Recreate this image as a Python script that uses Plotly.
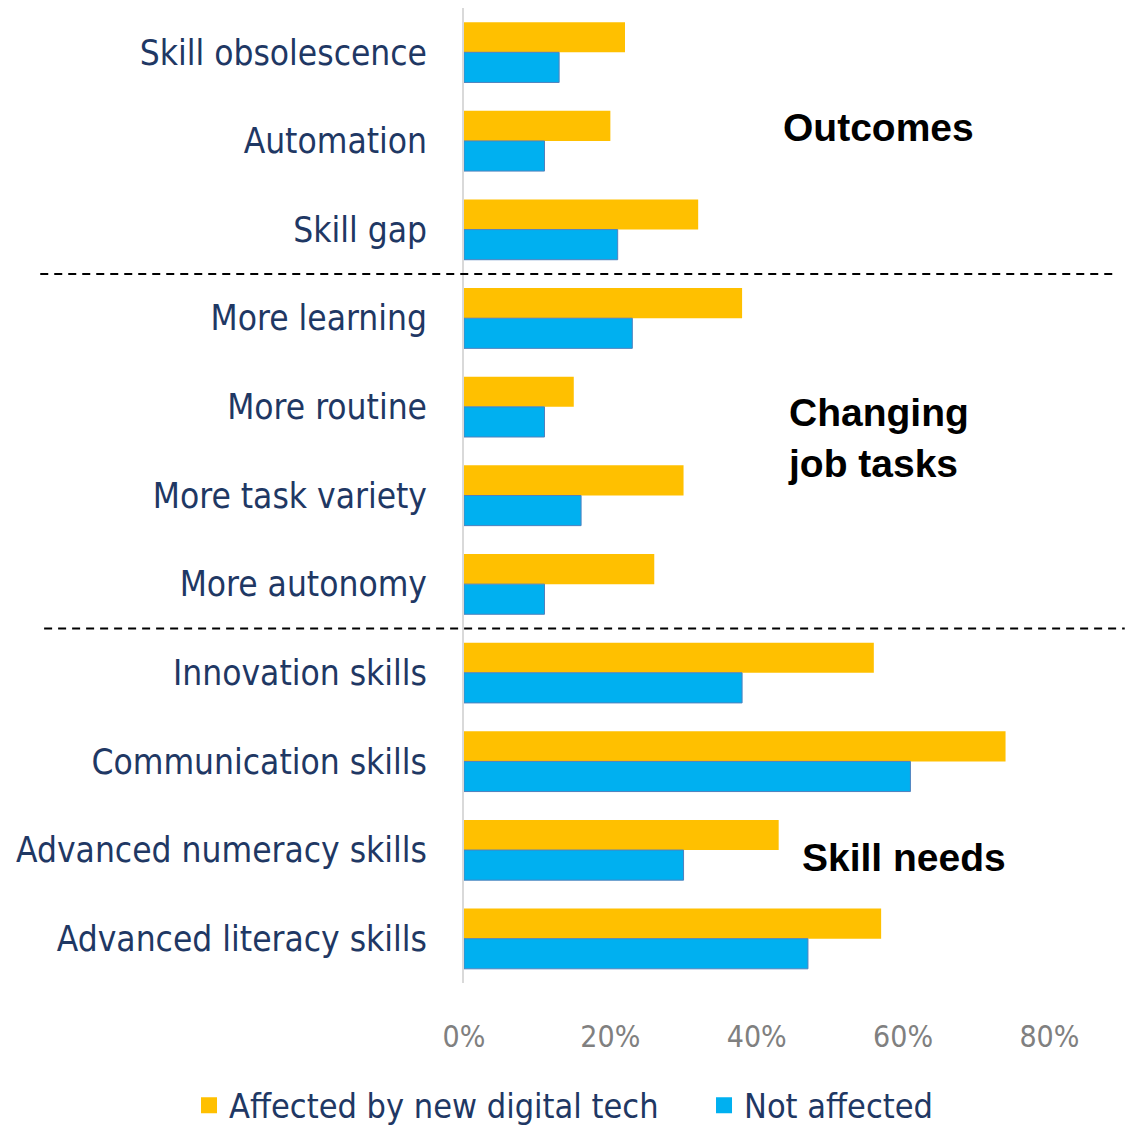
import plotly.graph_objects as go

categories = ["Skill obsolescence", "Automation", "Skill gap",
              "More learning", "More routine", "More task variety", "More autonomy",
              "Innovation skills", "Communication skills",
              "Advanced numeracy skills", "Advanced literacy skills"]
affected = [0.22, 0.20, 0.32, 0.38, 0.15, 0.30, 0.26, 0.56, 0.74, 0.43, 0.57]
not_affected = [0.13, 0.11, 0.21, 0.23, 0.11, 0.16, 0.11, 0.38, 0.61, 0.30, 0.47]
series_names = ["Affected by new digital tech", "Not affected"]
series_colors = ["#FFC000", "#00B0F0"]
tick_vals = [0, 0.2, 0.4, 0.6, 0.8]
tick_text = ["0%", "20%", "40%", "60%", "80%"]
group_labels = ["Outcomes", "Changing<br>job tasks", "Skill needs"]

NARROW = "DejaVu Sans Condensed, Liberation Sans Narrow, sans-serif"
NAVY = "#1F3864"

fig = go.Figure()
fig.add_trace(go.Bar(y=categories, x=affected, orientation="h", name=series_names[0],
                     showlegend=False,
                     marker=dict(color=series_colors[0], line=dict(width=0))))
fig.add_trace(go.Bar(y=categories, x=not_affected, orientation="h", name=series_names[1],
                     showlegend=False,
                     marker=dict(color=series_colors[1], line=dict(width=1, color="#4F81BD"))))
# legend entries (larger square symbols)
for nm, col in zip(series_names, series_colors):
    fig.add_trace(go.Scatter(x=[None], y=[None], mode="markers", name=nm,
                             marker=dict(symbol="square", size=16, color=col),
                             showlegend=True))

fig.update_layout(
    width=1125, height=1128,
    margin=dict(l=464, r=17, t=8, b=145, autoexpand=False),
    paper_bgcolor="white", plot_bgcolor="white",
    barmode="group", bargap=0.32, bargroupgap=0,
    showlegend=True,
    legend=dict(orientation="h", x=-0.427, xanchor="left", y=-0.096, yanchor="top",
                font=dict(family=NARROW, size=34, color=NAVY),
                itemsizing="trace", traceorder="normal", entrywidth=470,
                itemwidth=30),
    xaxis=dict(range=[0, 0.88], tickvals=tick_vals, ticktext=tick_text,
               showgrid=False, zeroline=False, showline=False, automargin=False,
               tickfont=dict(family=NARROW, size=30, color="#808080"),
               ticks="", ticklabelstandoff=33),
    yaxis=dict(autorange="reversed", showgrid=False, zeroline=False, automargin=False,
               showline=True, linecolor="#D9D9D9", linewidth=2,
               tickfont=dict(family=NARROW, size=35, color=NAVY),
               ticks="", ticklabelstandoff=28),
    font=dict(family=NARROW),
)

# dashed separators between groups
fig.add_shape(type="line", xref="paper", yref="y", x0=-0.658, x1=1.008, y0=2.5, y1=2.5,
              line=dict(color="black", width=2, dash="8px,6px"))
fig.add_shape(type="line", xref="paper", yref="y", x0=-0.652, x1=1.026, y0=6.5, y1=6.5,
              line=dict(color="black", width=2, dash="8px,6px"))

BOLD = "Liberation Sans, Arial, sans-serif"
fig.add_annotation(text="<b>%s</b>" % group_labels[0], xref="paper", yref="paper",
                   x=0.643, y=0.877, xanchor="center", yanchor="middle", showarrow=False,
                   font=dict(family=BOLD, size=39, color="black"))
fig.add_annotation(text="<b>%s</b>" % group_labels[1], xref="paper", yref="paper",
                   x=0.5, y=0.559, xanchor="left", yanchor="middle", showarrow=False,
                   align="left", font=dict(family=BOLD, size=39, color="black"))
fig.add_annotation(text="<b>%s</b>" % group_labels[2], xref="paper", yref="paper",
                   x=0.683, y=0.129, xanchor="center", yanchor="middle", showarrow=False,
                   font=dict(family=BOLD, size=39, color="black"))

fig.write_html("out.html")
